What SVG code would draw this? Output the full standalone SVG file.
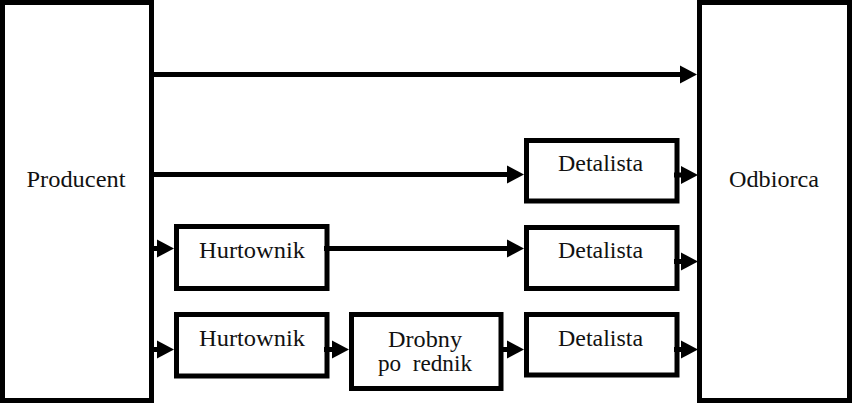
<svg xmlns="http://www.w3.org/2000/svg" width="852" height="404" viewBox="0 0 852 404">
<defs>
<marker id="ah" markerUnits="userSpaceOnUse" markerWidth="18" markerHeight="20" refX="0" refY="9" orient="auto" overflow="visible">
<path d="M0,0 L17,9 L0,18 Z" fill="#000"/>
</marker>
</defs>
<style>
.box{fill:#fff;stroke:#000;stroke-width:5}
.t{font-family:"Liberation Serif","Times New Roman",serif;font-size:23px;fill:#111;text-anchor:middle}
.c{stroke:#000;stroke-width:5;fill:none;marker-end:url(#ah)}
</style>
<rect width="852" height="404" fill="#fff"/>
<g id="producent"><rect class="box" x="2.5" y="2.5" width="149" height="398"/><text class="t" x="76" y="187" textLength="99" lengthAdjust="spacingAndGlyphs">Producent</text></g>
<g id="odbiorca"><rect class="box" x="699.5" y="2.5" width="150" height="398"/><text class="t" x="774" y="187" textLength="90" lengthAdjust="spacingAndGlyphs">Odbiorca</text></g>
<g id="detalista1"><rect class="box" x="526.5" y="140.5" width="150.5" height="60.5"/><text class="t" x="600.5" y="171" textLength="85" lengthAdjust="spacingAndGlyphs">Detalista</text></g>
<g id="hurtownik1"><rect class="box" x="176.5" y="226.5" width="150.5" height="62"/><text class="t" x="252" y="258" textLength="106" lengthAdjust="spacingAndGlyphs">Hurtownik</text></g>
<g id="detalista2"><rect class="box" x="526.5" y="227.5" width="150.5" height="61"/><text class="t" x="600.5" y="258" textLength="85" lengthAdjust="spacingAndGlyphs">Detalista</text></g>
<g id="hurtownik2"><rect class="box" x="176.5" y="314.5" width="150.5" height="61.5"/><text class="t" x="252" y="346" textLength="106" lengthAdjust="spacingAndGlyphs">Hurtownik</text></g>
<g id="drobny"><rect class="box" x="351.5" y="314.5" width="149.5" height="74"/><text class="t" x="425" y="347" textLength="74" lengthAdjust="spacingAndGlyphs">Drobny</text><text class="t" x="425" y="371" textLength="94" lengthAdjust="spacingAndGlyphs" xml:space="preserve">po  rednik</text></g>
<g id="detalista3"><rect class="box" x="526.5" y="314.5" width="150.5" height="60.5"/><text class="t" x="600.5" y="346" textLength="85" lengthAdjust="spacingAndGlyphs">Detalista</text></g>
<g id="connectors">
<line class="c" x1="149" y1="74.5" x2="680" y2="74.5"/>
<line class="c" x1="149" y1="174.5" x2="507" y2="174.5"/>
<line class="c" x1="674" y1="175" x2="681" y2="175"/>
<line class="c" x1="149" y1="248.5" x2="157" y2="248.5"/>
<line class="c" x1="324" y1="248.5" x2="507" y2="248.5"/>
<line class="c" x1="674" y1="261.5" x2="681" y2="261.5"/>
<line class="c" x1="149" y1="349.5" x2="157" y2="349.5"/>
<line class="c" x1="324" y1="349.5" x2="332" y2="349.5"/>
<line class="c" x1="499" y1="349.5" x2="507" y2="349.5"/>
<line class="c" x1="674" y1="349.5" x2="681" y2="349.5"/>
</g>
</svg>
